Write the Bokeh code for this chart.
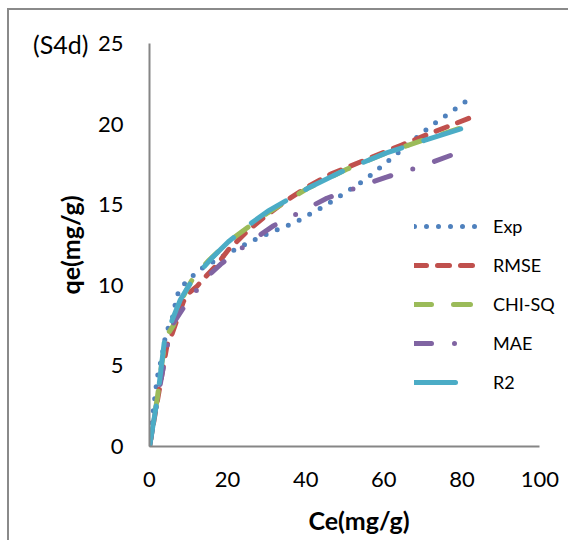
from bokeh.plotting import figure
from bokeh.models import LinearAxis, FixedTicker
from bokeh.embed import file_html
from bokeh.resources import INLINE

# ---- data ----
exp_ce = [0, 1, 2, 3.2, 3.8, 4.5, 5.8, 7.1, 8.6, 10.7, 13, 20.2, 28.3, 37.3, 45.4, 55.5, 64.6, 71.6, 81.6]
exp_qe = [0, 2.3, 4.3, 5.6, 6.5, 7.2, 7.9, 9.4, 10.0, 10.5, 11.0, 12.0, 13.0, 13.9, 15.0, 16.6, 18.4, 19.8, 21.5]

rmse_ce = [0, 1, 2, 3, 4.5, 5.8, 8.7, 10, 12.2, 15, 17, 20.2, 25.2, 30.3, 35.3, 40.4, 46.4, 50.5, 54.5, 60.5, 64.6, 70.6, 82.2]
rmse_qe = [0, 1.4, 2.8, 4.2, 6.3, 7.0, 9.0, 9.5, 9.95, 10.7, 11.2, 12.2, 13.4, 14.4, 15.3, 16.1, 16.9, 17.3, 17.7, 18.3, 18.7, 19.3, 20.4]

chi_ce = [0, 1, 2, 3, 4, 5, 6.1, 8, 10, 11.3, 15, 20.2, 25.2, 30.3, 40.4, 50.5, 60.5, 70.6, 82.7]
chi_qe = [0, 1.5, 3.0, 4.9, 6.5, 7.1, 7.5, 9.0, 9.95, 10.5, 11.5, 12.7, 13.6, 14.5, 16.0, 17.2, 18.2, 19.05, 20.0]

mae_ce = [0, 1, 2, 3, 4.5, 6, 8.7, 10, 12.5, 15.1, 18.2, 25.2, 31.8, 38.3, 45.4, 53.5, 60.5, 68.6, 78.7]
mae_qe = [0, 1.4, 2.8, 4.2, 6.2, 7.6, 8.6, 9.2, 9.8, 10.6, 11.3, 12.6, 13.7, 14.5, 15.4, 16.1, 16.7, 17.3, 18.2]

r2_ce = [0, 1.5, 2.4, 3.2, 3.8, 5.4, 7.9, 10, 11.3, 16, 20.2, 25.2, 30.3, 40.4, 50.5, 60.5, 70.6, 79.7]
r2_qe = [0, 2.2, 3.7, 5.3, 6.5, 7.6, 9.1, 9.95, 10.4, 11.7, 12.7, 13.7, 14.6, 16.0, 17.2, 18.2, 19.0, 19.7]

series_names = ["Exp", "RMSE", "CHI-SQ", "MAE", "R2"]
x_ticks = [0, 20, 40, 60, 80, 100]
y_ticks = [0, 5, 10, 15, 20, 25]
panel_tag = "(S4d)"

FONT = "Lato"

p = figure(width=561, height=532, x_range=(0, 107.3), y_range=(0, 25),
           output_backend="svg", toolbar_location=None,
           min_border_left=140, min_border_right=2,
           min_border_top=33, min_border_bottom=96)
p.styles = {"margin-left": "7px", "margin-top": "8px",
            "border-left": "2px solid #8a8a8a", "border-top": "2px solid #8a8a8a"}
p.outline_line_color = None
p.grid.visible = False

p.xaxis.ticker = x_ticks
p.yaxis.ticker = y_ticks
p.xaxis.bounds = (0, 100)
for ax in (p.xaxis, p.yaxis):
    ax.axis_line_color = "#868686"
    ax.axis_line_width = 2
    ax.major_tick_line_color = None
    ax.minor_tick_line_color = None
    ax.major_tick_out = 0
    ax.major_tick_in = 0
    ax.major_label_text_font = FONT
    ax.major_label_text_font_size = "22px"
    ax.major_label_text_color = "black"
    ax.axis_label_text_font = FONT
    ax.axis_label_text_font_size = "25px"
    ax.axis_label_text_font_style = "bold"
    ax.axis_label_text_color = "black"

p.xaxis.axis_label = "Ce(mg/g)"
p.yaxis.axis_label = "qe(mg/g)"
p.xaxis.major_label_standoff = 25
p.yaxis.major_label_standoff = 26
p.xaxis.axis_label_standoff = 15
p.yaxis.axis_label_standoff = 10

# panel tag "(S4d)" as a label-only axis placed left of the main y axis
tag_axis = LinearAxis(ticker=FixedTicker(ticks=[25]),
                      major_label_overrides={25: panel_tag},
                      axis_line_color=None, major_tick_line_color=None,
                      minor_tick_line_color=None, major_tick_out=0, major_tick_in=0,
                      major_label_standoff=-37,
                      major_label_text_font=FONT, major_label_text_font_size="25px",
                      major_label_text_color="black")
p.add_layout(tag_axis, "left")

common = dict(line_width=5, line_cap="round", line_join="round")
p.line(exp_ce, exp_qe, color="#4F81BD", line_dash="0 12", legend_label=series_names[0], **common)
p.line(rmse_ce, rmse_qe, color="#C0504D", line_dash="12 11", legend_label=series_names[1], **common)
p.line(chi_ce, chi_qe, color="#9BBB59", line_dash="17 22", legend_label=series_names[2], **common)
p.line(mae_ce, mae_qe, color="#8064A2", line_dash="17 23 0 23", legend_label=series_names[3], **common)
p.line(r2_ce, r2_qe, color="#4BACC6", line_dash="41 23", legend_label=series_names[4], **common)

lg = p.legend[0]
lg.location = (265, 53)
lg.border_line_color = None
lg.background_fill_alpha = 0
lg.padding = 0
lg.margin = 0
lg.spacing = 17
lg.glyph_width = 63
lg.glyph_height = 20
lg.label_height = 20
lg.label_standoff = 16
lg.label_text_font = FONT
lg.label_text_font_size = "18px"
lg.label_text_color = "black"

open("out.html", "w").write(file_html(p, INLINE))
